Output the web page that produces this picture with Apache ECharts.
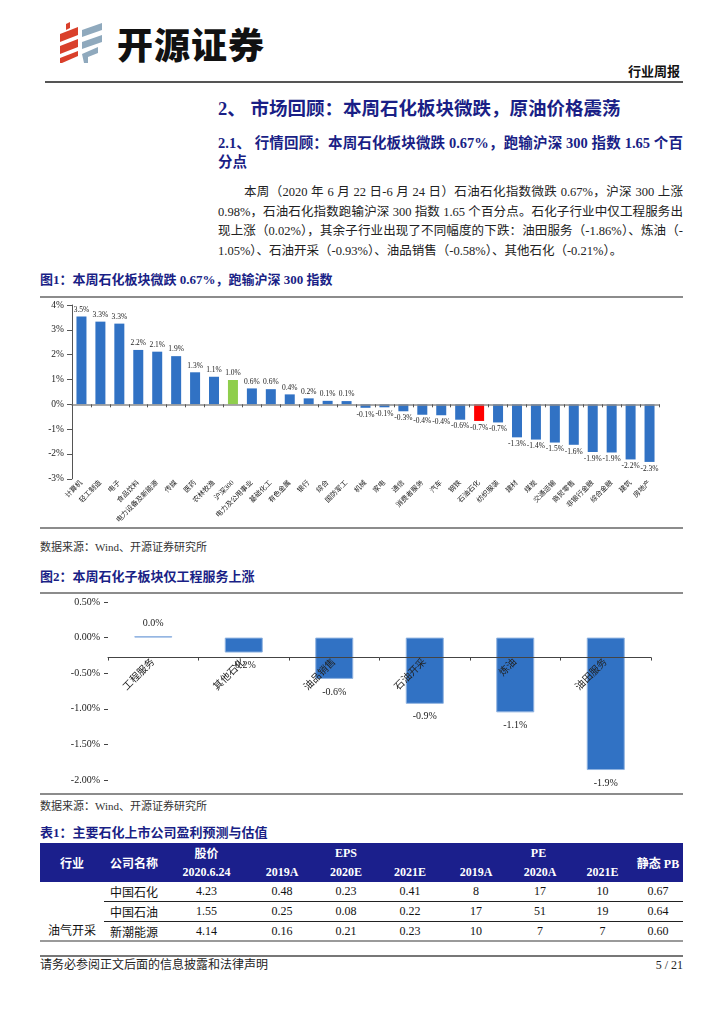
<!DOCTYPE html>
<html>
<head>
<meta charset="utf-8">
<script src="https://cdn.jsdelivr.net/npm/echarts@6/dist/echarts.min.js"></script>
<style>
  html,body{margin:0;padding:0;background:#fff;}
  body{width:724px;height:1024px;position:relative;overflow:hidden;font-family:"Liberation Serif","Noto Sans CJK SC",serif;color:#111;}
  .abs{position:absolute;}
  .navy{color:#1a1f86;font-weight:bold;}
  .line{position:absolute;left:40px;width:643px;height:2px;background:#8c8c8c;}
  .para div{text-align:justify;text-align-last:justify;white-space:nowrap;height:19.5px;line-height:19.5px;}
  table{border-collapse:collapse;table-layout:fixed;font-size:12px;}
  th{background:#1b1f8c;color:#fff;font-weight:bold;padding:0;text-align:center;}
  td{padding:0;text-align:center;height:19px;}
</style>
</head>
<body>
<!-- header -->
<svg class="abs" style="left:58px;top:22px" width="50" height="42" viewBox="0 0 50 42">
  <polygon points="8,2 12,0 12,6 8,8" fill="#d9402b"/>
  <polygon points="2,12 20,5 20,13 2,20" fill="#d9402b"/>
  <polygon points="2,24 20,17 20,25 2,32" fill="#d9402b"/>
  <polygon points="2,36 20,29 20,34 4,41 2,41" fill="#d9402b"/>
  <polygon points="24,8 44,1 44,8 24,15" fill="#8fa9bd"/>
  <polygon points="24,20 44,13 44,20 24,27" fill="#8fa9bd"/>
  <polygon points="24,32 40,25 40,31 30,35 30,41 26,41" fill="#8fa9bd"/>
</svg>
<div class="abs" style="left:117px;top:19px;font-family:'Noto Sans CJK SC';font-weight:900;font-size:36px;letter-spacing:1px;color:#111;line-height:48px;">开源证券</div>
<div class="abs" style="left:628px;top:63px;font-family:'Noto Sans CJK SC';font-weight:bold;font-size:13px;line-height:16px;">行业周报</div>
<div class="abs" style="left:45px;top:81px;width:638px;height:2px;background:#555;"></div>

<div class="abs navy" style="left:218px;top:97px;font-size:18.5px;line-height:24px;font-family:'Liberation Serif','Noto Sans CJK SC';">2、 市场回顾：本周石化板块微跌，原油价格震荡</div>
<div class="abs navy para" style="left:218px;top:134px;width:465px;font-size:14.5px;font-family:'Liberation Serif','Noto Sans CJK SC';">
  <div style="height:19px;line-height:19px;">2.1、 行情回顾：本周石化板块微跌 0.67%，跑输沪深 300 指数 1.65 个百</div>
  <div style="text-align-last:left;height:19px;line-height:19px;">分点</div>
</div>
<div class="abs para" style="left:218px;top:183px;width:465px;font-size:12.5px;color:#222;">
  <div style="padding-left:26px;">本周（2020 年 6 月 22 日-6 月 24 日）石油石化指数微跌 0.67%，沪深 300 上涨</div>
  <div>0.98%，石油石化指数跑输沪深 300 指数 1.65 个百分点。石化子行业中仅工程服务出</div>
  <div>现上涨（0.02%），其余子行业出现了不同幅度的下跌：油田服务（-1.86%）、炼油（-</div>
  <div style="text-align-last:left;">1.05%）、石油开采（-0.93%）、油品销售（-0.58%）、其他石化（-0.21%）。</div>
</div>

<!-- figure 1 -->
<div class="abs navy" style="left:40px;top:271px;font-size:13px;line-height:18px;">图1：本周石化板块微跌 0.67%，跑输沪深 300 指数</div>
<div class="line" style="top:296px;"></div>
<div id="c1" class="abs" style="left:0;top:298px;width:724px;height:228px;"></div>
<div class="line" style="top:527px;"></div>
<div class="abs" style="left:40px;top:539px;font-size:11px;line-height:16px;color:#333;">数据来源：Wind、开源证券研究所</div>

<!-- figure 2 -->
<div class="abs navy" style="left:40px;top:568px;font-size:13px;line-height:18px;">图2：本周石化子板块仅工程服务上涨</div>
<div class="line" style="top:592px;"></div>
<div id="c2" class="abs" style="left:0;top:594px;width:724px;height:198px;"></div>
<div class="line" style="top:793px;"></div>
<div class="abs" style="left:40px;top:798px;font-size:11px;line-height:16px;color:#333;">数据来源：Wind、开源证券研究所</div>

<!-- table -->
<div class="abs navy" style="left:40px;top:824px;font-size:13px;line-height:18px;">表1：主要石化上市公司盈利预测与估值</div>
<div class="abs" style="left:40px;top:843px;">
<table id="tbl">
  <colgroup>
    <col style="width:64px"><col style="width:61px"><col style="width:83px"><col style="width:68px"><col style="width:60px"><col style="width:68px"><col style="width:64px"><col style="width:64px"><col style="width:61px"><col style="width:50px">
  </colgroup>
  <tr style="height:20px"><th rowspan="2">行业</th><th rowspan="2" style="text-align:left;padding-left:6px;">公司名称</th><th>股价</th><th colspan="3">EPS</th><th colspan="3">PE</th><th rowspan="2">静态 PB</th></tr>
  <tr style="height:19px"><th>2020.6.24</th><th>2019A</th><th>2020E</th><th>2021E</th><th>2019A</th><th>2020A</th><th>2021E</th></tr>
</table>
</div>
<div class="abs" style="left:40px;top:940px;width:643px;height:2px;background:#9a9a9a;"></div>

<!-- footer -->
<div class="abs" style="left:40px;top:955px;width:643px;height:2px;background:#777;"></div>
<div class="abs" style="left:40px;top:957px;font-size:12px;line-height:16px;color:#222;">请务必参阅正文后面的信息披露和法律声明</div>
<div class="abs" style="left:600px;top:957px;width:83px;text-align:right;font-size:12px;line-height:16px;color:#222;">5 / 21</div>

<script>
// ---------- Figure 1 data ----------
var sectors = ['计算机','轻工制造','电子','食品饮料','电力设备及新能源','传媒','医药','农林牧渔','沪深300','电力及公用事业','基础化工','有色金属','银行','综合','国防军工','机械','家电','通信','消费者服务','汽车','钢铁','石油石化','纺织服装','建材','煤炭','交通运输','商贸零售','非银行金融','综合金融','建筑','房地产'];
var sectorChange = [3.54,3.33,3.25,2.19,2.12,1.94,1.29,1.11,0.98,0.64,0.61,0.40,0.24,0.14,0.13,-0.14,-0.12,-0.28,-0.42,-0.44,-0.62,-0.67,-0.73,-1.33,-1.42,-1.54,-1.63,-1.92,-1.94,-2.22,-2.32];
var yTicks1 = [-3,-2,-1,0,1,2,3,4];

// ---------- Figure 2 data ----------
var subSectors = ['工程服务','其他石化','油品销售','石油开采','炼油','油田服务'];
var subChange = [0.02,-0.21,-0.58,-0.93,-1.05,-1.86];
var yTicks2 = [-2.0,-1.5,-1.0,-0.5,0,0.5];

// ---------- Table data ----------
var industries = ['油气开采'];
var companies = ['中国石化','中国石油','新潮能源'];
var price = ['4.23','1.55','4.14'];
var eps2019 = ['0.48','0.25','0.16'];
var eps2020 = ['0.23','0.08','0.21'];
var eps2021 = ['0.41','0.22','0.23'];
var pe2019 = ['8','17','10'];
var pe2020 = ['17','51','7'];
var pe2021 = ['10','19','7'];
var pb = ['0.67','0.64','0.60'];

var serif = '"Liberation Serif","Noto Sans CJK SC",serif';

var c1 = echarts.init(document.getElementById('c1'));
c1.setOption({
  animation:false,
  grid:{left:72,right:65,top:7,bottom:6},
  xAxis:{type:'category',data:sectors,z:5,
    axisLine:{onZero:true,lineStyle:{color:'#8c8c8c',width:1.5}},
    axisTick:{show:true,length:3,lineStyle:{color:'#555'}},
    axisLabel:{interval:0,rotate:45,fontSize:7,color:'#222',margin:3,fontFamily:serif}},
  yAxis:{type:'value',min:yTicks1[0],max:yTicks1[yTicks1.length-1],interval:1,
    axisLine:{show:true,lineStyle:{color:'#555'}},
    axisTick:{show:true,length:5,lineStyle:{color:'#555'}},
    splitLine:{show:false},
    axisLabel:{formatter:'{value}%',fontSize:9.5,color:'#222',margin:8,fontFamily:serif}},
  series:[{type:'bar',barWidth:10,
    data:sectorChange.map(function(v,i){
      var col = sectors[i]==='沪深300' ? '#8fce4c' : (sectors[i]==='石油石化' ? '#ff0000' : '#3172c4');
      return {value:v,itemStyle:{color:col},label:{position:v>=0?'top':'bottom'}};
    }),
    label:{show:true,fontSize:7.5,color:'#222',distance:3,fontFamily:serif,
      formatter:function(p){return p.value.toFixed(1)+'%';}}
  }]
});

var c2 = echarts.init(document.getElementById('c2'));
var grid2 = {left:108,right:73,top:8,bottom:12};
c2.setOption({
  animation:false,
  grid:grid2,
  xAxis:{type:'category',data:subSectors,z:5,
    axisLine:{onZero:false,lineStyle:{color:'#444',width:1}},
    axisTick:{show:true,length:3,lineStyle:{color:'#444'}},
    axisLabel:{interval:0,rotate:45,fontSize:10,color:'#222',margin:3,fontFamily:serif}},
  yAxis:{type:'value',min:yTicks2[0],max:yTicks2[yTicks2.length-1],interval:0.5,
    axisLine:{show:false},
    axisTick:{show:true,length:4,lineStyle:{color:'#444'}},
    splitLine:{show:false},
    axisLabel:{formatter:function(v){return v.toFixed(2)+'%';},fontSize:10,color:'#222',margin:8,fontFamily:serif}},
  series:[{type:'bar',barWidth:38,
    itemStyle:{color:'#3172c4',borderColor:'#8fb2e0',borderWidth:1},
    data:subChange.map(function(v){return {value:v,label:{position:v>=0?'top':'bottom'}};}),
    label:{show:true,fontSize:10,color:'#222',distance:8,fontFamily:serif,
      formatter:function(p){return p.value.toFixed(1)+'%';}}
  }]
});
// move the category axis up to the zero line, using the library's own y scale
var zeroPx = c2.convertToPixel({yAxisIndex:0}, 0);
var bottomPx = c2.convertToPixel({yAxisIndex:0}, yTicks2[0]);
c2.setOption({xAxis:{offset:-(bottomPx - zeroPx)}});

// build table body
var tbl = document.getElementById('tbl');
for (var i=0;i<companies.length;i++){
  var tr = document.createElement('tr');
  var html = '';
  if (i===0) html += '<td rowspan="3" style="vertical-align:bottom;padding-bottom:2px;">'+industries[0]+'</td>';
  var bt = i<companies.length-1 ? 'border-bottom:1.5px solid #222;' : '';
  var cells = [companies[i],price[i],eps2019[i],eps2020[i],eps2021[i],pe2019[i],pe2020[i],pe2021[i],pb[i]];
  cells.forEach(function(c,k){
    html += '<td style="'+bt+(k===0?'text-align:left;padding-left:6px;':'')+'">'+c+'</td>';
  });
  tr.innerHTML = html;
  tbl.appendChild(tr);
}
</script>
</body>
</html>
